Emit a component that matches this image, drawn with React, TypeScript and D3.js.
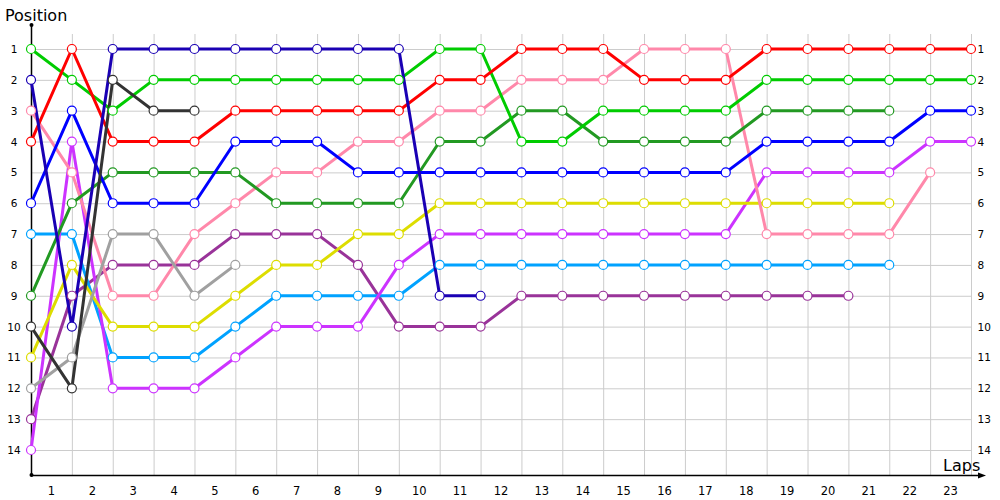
import React from "react";
import * as d3 from "d3";

const laps = d3.range(0, 24);
const lapLabels = d3.range(1, 24);
const positions = d3.range(1, 15);

const seriesNames = ["darkPurple", "lightBlue", "violet", "yellow", "pink", "gray", "darkGreen", "green", "blue", "red", "darkGray", "navy"];
const seriesColors = ["#993399", "#00a2ff", "#cc33ff", "#dddd00", "#ff88aa", "#a0a0a0", "#229922", "#00cc00", "#0000ff", "#ff0000", "#333333", "#1a00b4"];

const darkPurple = [13, 9, 8, 8, 8, 7, 7, 7, 8, 10, 10, 10, 9, 9, 9, 9, 9, 9, 9, 9, 9];
const lightBlue = [7, 7, 11, 11, 11, 10, 9, 9, 9, 9, 8, 8, 8, 8, 8, 8, 8, 8, 8, 8, 8, 8];
const violet = [14, 4, 12, 12, 12, 11, 10, 10, 10, 8, 7, 7, 7, 7, 7, 7, 7, 7, 5, 5, 5, 5, 4, 4];
const yellow = [11, 8, 10, 10, 10, 9, 8, 8, 7, 7, 6, 6, 6, 6, 6, 6, 6, 6, 6, 6, 6, 6];
const pink = [3, 5, 9, 9, 7, 6, 5, 5, 4, 4, 3, 3, 2, 2, 2, 1, 1, 1, 7, 7, 7, 7, 5];
const gray = [12, 11, 7, 7, 9, 8];
const darkGreen = [9, 6, 5, 5, 5, 5, 6, 6, 6, 6, 4, 4, 3, 3, 4, 4, 4, 4, 3, 3, 3, 3];
const green = [1, 2, 3, 2, 2, 2, 2, 2, 2, 2, 1, 1, 4, 4, 3, 3, 3, 3, 2, 2, 2, 2, 2, 2];
const blue = [6, 3, 6, 6, 6, 4, 4, 4, 5, 5, 5, 5, 5, 5, 5, 5, 5, 5, 4, 4, 4, 4, 3, 3];
const red = [4, 1, 4, 4, 4, 3, 3, 3, 3, 3, 2, 2, 1, 1, 1, 2, 2, 2, 1, 1, 1, 1, 1, 1];
const darkGray = [10, 12, 2, 3, 3];
const navy = [2, 10, 1, 1, 1, 1, 1, 1, 1, 1, 9, 9];

const seriesValues = [darkPurple, lightBlue, violet, yellow, pink, gray, darkGreen, green, blue, red, darkGray, navy];

export default function App() {
  const W = 1000;
  const H = 500;
  const x = d3.scaleLinear().domain([0, 23]).range([31, 971]);
  const y = d3.scaleLinear().domain([1, 14]).range([49, 450]);
  const line = d3
    .line<number>()
    .x((_, i) => x(laps[i]))
    .y((d) => y(d));
  const font = "'DejaVu Sans', Verdana, sans-serif";
  const gridTop = 34;
  const axisY = 475;

  return (
    <svg width={W} height={H} style={{ position: "absolute", left: 0, top: 0, background: "#fff" }}>
      {/* grid */}
      <g stroke="#cccccc" strokeWidth={1}>
        {laps.slice(1).map((l) => (
          <line key={"v" + l} x1={x(l) + 0.5} x2={x(l) + 0.5} y1={gridTop} y2={axisY} />
        ))}
        {positions.map((p) => (
          <line key={"h" + p} x1={x(0)} x2={x(23)} y1={y(p) + 0.5} y2={y(p) + 0.5} />
        ))}
      </g>
      {/* axes */}
      <line x1={x(0) + 0.5} x2={x(0) + 0.5} y1={25} y2={axisY} stroke="#000" strokeWidth={1.5} />
      <circle cx={x(0) + 0.5} cy={25} r={2} fill="#000" />
      <circle cx={x(0) + 0.5} cy={axisY} r={2} fill="#000" />
      <line x1={x(0)} x2={978} y1={axisY + 0.5} y2={axisY + 0.5} stroke="#000" strokeWidth={1.5} />
      <path d={`M${978},${axisY - 2.5} L${986},${axisY + 0.5} L${978},${axisY + 3.5} Z`} fill="#000" />
      <text x={5} y={21} fontFamily={font} fontSize={16} fill="#000">Position</text>
      <text x={943} y={471} fontFamily={font} fontSize={16} fill="#000">Laps</text>
      {/* y tick labels */}
      {positions.map((p) => (
        <g key={"yl" + p} fontFamily={font} fontSize={10.5} fill="#000">
          <text x={14} y={y(p) + 4} textAnchor="middle">{p}</text>
          <text x={977.5} y={y(p) + 4} textAnchor="start">{p}</text>
        </g>
      ))}
      {/* x tick labels */}
      {lapLabels.map((l) => (
        <text key={"xl" + l} x={x(l - 0.5)} y={495} textAnchor="middle" fontFamily={font} fontSize={11.5} fill="#000">
          {l}
        </text>
      ))}
      {/* lines */}
      {seriesValues.map((vals, si) => (
        <path key={"p" + seriesNames[si]} d={line(vals) || ""} fill="none" stroke={seriesColors[si]} strokeWidth={3} strokeLinejoin="round" />
      ))}
      {/* markers */}
      {seriesValues.map((vals, si) => (
        <g key={"m" + seriesNames[si]}>
          {vals.map((v, i) => (
            <circle key={i} cx={x(laps[i])} cy={y(v)} r={4.5} fill="#fff" stroke={seriesColors[si]} strokeWidth={1.2} />
          ))}
        </g>
      ))}
    </svg>
  );
}
